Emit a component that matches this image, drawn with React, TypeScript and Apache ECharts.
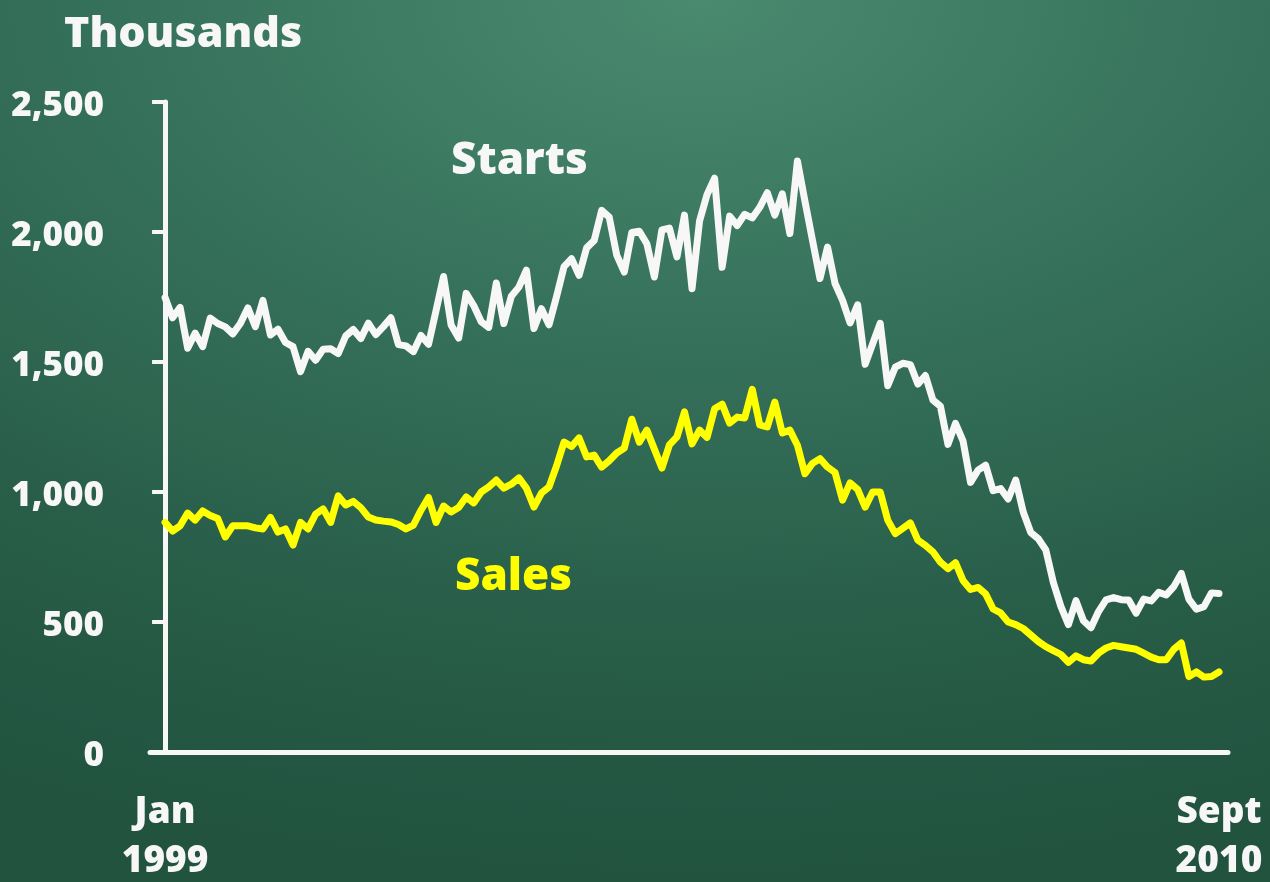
import React, { useEffect, useRef } from "react";
import * as echarts from "echarts";

// Monthly, Jan 1999 .. Sept 2010 (141 months), thousands of units (SAAR)
const startMonthLabel = "Jan\n1999";
const endMonthLabel = "Sept\n2010";
const yTicks = [0, 500, 1000, 1500, 2000, 2500];

const starts: number[] = [
  1748, 1670, 1710, 1553, 1611, 1559, 1669, 1648, 1635, 1608, 1648, 1708,
  1636, 1737, 1604, 1626, 1575, 1559, 1463, 1541, 1507, 1549, 1551, 1532,
  1600, 1625, 1590, 1649, 1605, 1636, 1670, 1567, 1562, 1540, 1602, 1568,
  1698, 1829, 1642, 1592, 1764, 1717, 1655, 1633, 1804, 1648, 1753, 1788,
  1853, 1629, 1705, 1643, 1751, 1867, 1897, 1833, 1939, 1967, 2083, 2057,
  1911, 1846, 1998, 2003, 1955, 1827, 2008, 2015, 1904, 2065, 1782, 2042,
  2144, 2207, 1864, 2061, 2025, 2068, 2054, 2095, 2151, 2065, 2147, 1994,
  2273, 2119, 1969, 1821, 1942, 1802, 1737, 1650, 1720, 1491, 1570, 1649,
  1409, 1480, 1495, 1490, 1415, 1448, 1354, 1330, 1183, 1264, 1197, 1037,
  1084, 1103, 1005, 1013, 973, 1046, 923, 844, 820, 777, 652, 560,
  490, 582, 505, 478, 540, 585, 594, 586, 585, 534, 588, 581,
  614, 604, 636, 687, 588, 549, 559, 612, 610,
];

const sales: number[] = [
  883, 850, 870, 919, 892, 927, 910, 898, 827, 870, 870, 870,
  862, 858, 902, 846, 858, 796, 883, 858, 915, 935, 883, 985,
  950, 964, 940, 904, 892, 888, 885, 875, 858, 873, 930, 979,
  883, 946, 923, 940, 981, 958, 1000, 1020, 1046, 1015, 1030, 1054,
  1015, 942, 996, 1019, 1100, 1192, 1175, 1208, 1135, 1142, 1096, 1120,
  1150, 1169, 1280, 1192, 1238, 1165, 1092, 1181, 1212, 1308, 1185, 1238,
  1210, 1320, 1338, 1265, 1288, 1285, 1395, 1258, 1250, 1346, 1227, 1238,
  1180, 1070, 1110, 1128, 1096, 1075, 969, 1035, 1010, 942, 1000, 1000,
  892, 840, 860, 881, 815, 795, 770, 730, 705, 728, 660, 625,
  633, 608, 550, 535, 500, 490, 475, 450, 425, 405, 390, 375,
  345, 370, 355, 350, 380, 400, 410, 405, 400, 395, 380, 365,
  355, 355, 395, 419, 290, 308, 288, 290, 308,
];

const FONT = "'Open Sans', 'DejaVu Sans', sans-serif";

export default function App() {
  const ref = useRef<HTMLDivElement>(null);

  useEffect(() => {
    if (!ref.current) return;
    const chart = echarts.init(ref.current, null, { renderer: "svg" });
    const last = starts.length - 1;
    chart.setOption({
      animation: false,
      grid: { left: 150, right: 42, top: 102, bottom: 130, outerBoundsMode: "none", containLabel: false },
      xAxis: {
        type: "value",
        min: -2,
        max: 141.2,
        axisLine: { show: true, lineStyle: { color: "#f7f7f7", width: 5 } },
        axisTick: { show: false },
        splitLine: { show: false },
        axisLabel: {
          customValues: [0, last],
          margin: 32,
          color: "#f7f7f7",
          fontFamily: FONT,
          fontWeight: 800,
          fontSize: 37,
          lineHeight: 49,
          formatter: (v: number) => (v === 0 ? startMonthLabel : endMonthLabel),
        },
      },
      yAxis: {
        type: "value",
        min: 0,
        max: 2500,
        interval: 500,
        axisLine: { show: true, onZero: true, lineStyle: { color: "#f7f7f7", width: 5 } },
        axisTick: { show: true, length: 13, lineStyle: { color: "#f7f7f7", width: 4 } },
        splitLine: { show: false },
        axisLabel: {
          margin: 46,
          color: "#f7f7f7",
          fontFamily: FONT,
          fontWeight: 800,
          fontSize: 35,
          formatter: (v: number) => (yTicks.includes(v) ? v.toLocaleString("en-US") : ""),
        },
      },
      series: [
        {
          name: "Starts",
          type: "line",
          showSymbol: false,
          data: starts.map((v, i) => [i, v]),
          lineStyle: { color: "#f7f7f7", width: 7, join: "round", cap: "round" },
        },
        {
          name: "Sales",
          type: "line",
          showSymbol: false,
          data: sales.map((v, i) => [i, v]),
          lineStyle: { color: "#ffff00", width: 7, join: "round", cap: "round" },
        },
      ],
      graphic: [
        {
          type: "text",
          left: 64,
          top: 9,
          style: { text: "Thousands", fill: "#f7f7f7", font: `800 43px ${FONT}` },
        },
        {
          type: "text",
          left: 451,
          top: 135,
          style: { text: "Starts", fill: "#f7f7f7", font: `800 44px ${FONT}` },
        },
        {
          type: "text",
          left: 455,
          top: 551,
          style: { text: "Sales", fill: "#ffff00", font: `800 44px ${FONT}` },
        },
      ],
    });
    return () => chart.dispose();
  }, []);

  return (
    <div
      style={{
        position: "fixed",
        left: 0,
        top: 0,
        width: 1270,
        height: 882,
        background:
          "radial-gradient(ellipse 120% 100% at 55% 0%, #4a8a6f 0%, #35705a 40%, #275c47 75%, #21533f 100%)",
      }}
    >
      <div ref={ref} style={{ width: 1270, height: 882 }} />
    </div>
  );
}
